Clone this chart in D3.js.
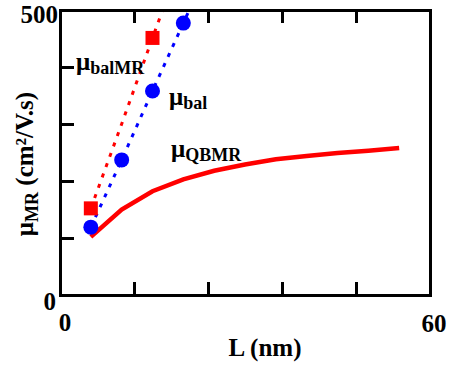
<!DOCTYPE html>
<html><head><meta charset="utf-8">
<script src="https://cdn.jsdelivr.net/npm/d3@7"></script>
<style>
html,body{margin:0;padding:0;background:#fff;}
svg text{font-family:"Liberation Serif","Times New Roman",serif;font-weight:bold;}
</style></head>
<body>
<svg id="c" width="450" height="374"></svg>
<script>
// Data
const qbmrL   = [5, 10, 15, 20, 25, 30, 35, 40, 45, 50, 55];
const qbmrVal = [102, 150, 182, 203, 218, 229, 238, 244, 249, 253, 258];
const balMRL   = [5, 15];
const balMRVal = [152, 451];
const balMRLineL   = [5, 10, 15, 20];
const balMRLineVal = [152, 300, 451, 600];
const balL   = [5, 10, 15, 20];
const balVal = [119, 237, 358, 477];
const balLineL   = [5, 10, 15, 20, 25];
const balLineVal = [119, 237, 358, 477, 597];
const xTicks = [0, 12, 24, 36, 48, 60];
const yTicks = [0, 100, 200, 300, 400, 500];
const xTickLabels = ["0", "60"];
const yTickLabels = ["0", "500"];

(function () {
const svg = d3.select("#c");
const PL = 60, PR = 430, PT = 10, PB = 295;
const FS = 25, SUB = 18;
const x = d3.scaleLinear().domain([0, 60]).range([PL, PR]);
const y = d3.scaleLinear().domain([0, 500]).range([PB, PT]);

svg.append("defs").append("clipPath").attr("id", "clip")
  .append("rect").attr("x", PL).attr("y", PT).attr("width", PR - PL).attr("height", PB - PT);

const plot = svg.append("g").attr("clip-path", "url(#clip)");
const line = d3.line().x(d => x(d[0])).y(d => y(d[1]));

// dotted lines
plot.append("path").datum(d3.zip(balMRLineL, balMRLineVal))
  .attr("d", line).attr("fill", "none").attr("stroke", "#ff0000")
  .attr("stroke-width", 3).attr("stroke-dasharray", "4,7");
plot.append("path").datum(d3.zip(balLineL, balLineVal))
  .attr("d", line).attr("fill", "none").attr("stroke", "#0000ff")
  .attr("stroke-width", 3).attr("stroke-dasharray", "4,7");

// QBMR solid
plot.append("path").datum(d3.zip(qbmrL, qbmrVal))
  .attr("d", line).attr("fill", "none").attr("stroke", "#ff0000")
  .attr("stroke-width", 4.5).attr("stroke-linejoin", "miter");

// markers
plot.selectAll("circle.bal").data(d3.zip(balL, balVal)).join("circle")
  .attr("cx", d => x(d[0])).attr("cy", d => y(d[1])).attr("r", 7.5).attr("fill", "#0000ff");
const s = 14;
plot.selectAll("rect.balmr").data(d3.zip(balMRL, balMRVal)).join("rect")
  .attr("x", d => x(d[0]) - s / 2).attr("y", d => y(d[1]) - s / 2)
  .attr("width", s).attr("height", s).attr("fill", "#ff0000");

// axes
const axG = svg.append("g");
axG.append("g").attr("transform", `translate(0,${PB})`)
  .call(d3.axisBottom(x).tickValues(xTicks).tickSizeInner(-13).tickSizeOuter(0).tickFormat(""));
axG.append("g").attr("transform", `translate(0,${PT})`)
  .call(d3.axisTop(x).tickValues(xTicks).tickSizeInner(-13).tickSizeOuter(0).tickFormat(""));
axG.append("g").attr("transform", `translate(${PL},0)`)
  .call(d3.axisLeft(y).tickValues(yTicks).tickSizeInner(-14).tickSizeOuter(0).tickFormat(""));
axG.append("g").attr("transform", `translate(${PR},0)`)
  .call(d3.axisRight(y).tickValues([]).tickSizeOuter(0));
axG.selectAll("path.domain").attr("stroke", "#000").attr("stroke-width", 3).attr("stroke-linecap", "square");
axG.selectAll(".tick line").attr("stroke", "#000").attr("stroke-width", 3);

// tick labels
svg.append("text").attr("x", x(0) - 4).attr("y", y(0) + 15).attr("text-anchor", "end")
  .attr("font-size", FS).text(yTickLabels[0]);
svg.append("text").attr("x", x(0) - 2).attr("y", y(500) + 13).attr("text-anchor", "end")
  .attr("font-size", FS).text(yTickLabels[1]);
svg.append("text").attr("x", x(0) + 5).attr("y", 331).attr("text-anchor", "middle")
  .attr("font-size", FS).text(xTickLabels[0]);
svg.append("text").attr("x", x(60) + 4).attr("y", 332).attr("text-anchor", "middle")
  .attr("font-size", FS).text(xTickLabels[1]);

// axis titles
svg.append("text").attr("x", 265).attr("y", 356).attr("text-anchor", "middle")
  .attr("font-size", FS).text("L (nm)");
const yt = svg.append("text").attr("transform", "translate(33,164) rotate(-90)")
  .attr("text-anchor", "middle").attr("font-size", FS);
yt.append("tspan").text("μ");
yt.append("tspan").attr("font-size", SUB).attr("dy", 5).text("MR");
yt.append("tspan").attr("dy", -5).text(" (cm²/V.s)");

// series labels
function label(px, py, sub) {
  const t = svg.append("text").attr("x", px).attr("y", py).attr("font-size", FS);
  t.append("tspan").text("μ");
  t.append("tspan").attr("font-size", SUB).attr("dy", 4).text(sub);
}
label(76, 70, "balMR");
label(169, 105, "bal");
label(171, 157, "QBMR");
})();
</script>
</body></html>
